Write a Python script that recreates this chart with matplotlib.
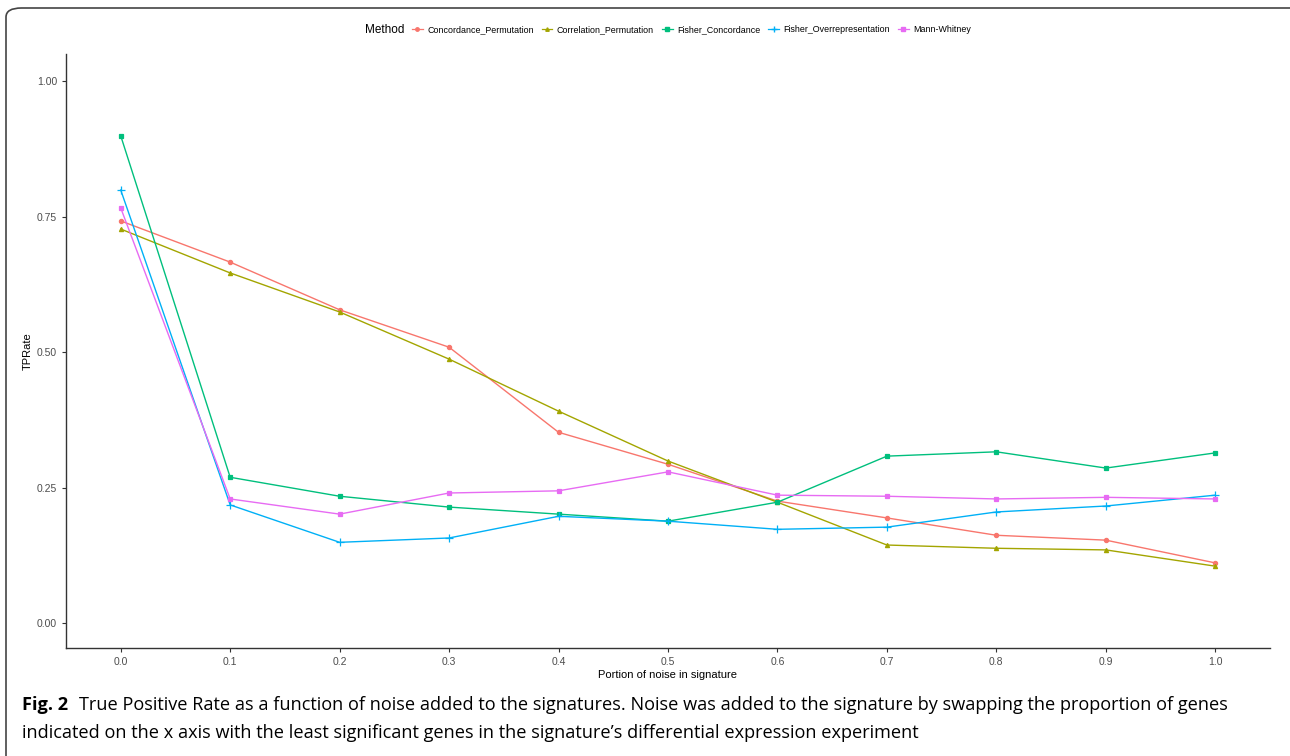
import matplotlib.pyplot as plt
from matplotlib.patches import FancyBboxPatch
from matplotlib.lines import Line2D

noise = [0.0, 0.1, 0.2, 0.3, 0.4, 0.5, 0.6, 0.7, 0.8, 0.9, 1.0]

concordance_perm = [0.742, 0.666, 0.578, 0.509, 0.352, 0.293, 0.225, 0.194, 0.162, 0.153, 0.111]
correlation_perm = [0.727, 0.646, 0.574, 0.487, 0.391, 0.299, 0.223, 0.144, 0.138, 0.135, 0.105]
fisher_concordance = [0.899, 0.269, 0.234, 0.214, 0.201, 0.188, 0.223, 0.308, 0.316, 0.286, 0.314]
fisher_overrep = [0.799, 0.218, 0.149, 0.157, 0.197, 0.188, 0.173, 0.177, 0.205, 0.216, 0.236]
mann_whitney = [0.766, 0.229, 0.201, 0.240, 0.244, 0.279, 0.236, 0.234, 0.229, 0.232, 0.229]

methods = ["Concordance_Permutation", "Correlation_Permutation", "Fisher_Concordance",
           "Fisher_Overrepresentation", "Mann-Whitney"]
series = [concordance_perm, correlation_perm, fisher_concordance, fisher_overrep, mann_whitney]
colors = ["#F8766D", "#A3A500", "#00BF7D", "#00B0F6", "#E76BF3"]
markers = ["o", "^", "s", "+", "s"]

plt.rcParams['font.family'] = ['Liberation Sans', 'DejaVu Sans']

fig = plt.figure(figsize=(12.9, 7.56), dpi=100)

# rounded journal frame
frame = FancyBboxPatch((6 / 1290, -0.05), 1.05, 1 - 8 / 756 + 0.05,
                       boxstyle="round,pad=0,rounding_size=0.012",
                       transform=fig.transFigure, fill=False,
                       edgecolor="#444444", linewidth=1.2, clip_on=False)
fig.patches.append(frame)

ax = fig.add_axes([66 / 1290, 108 / 756, 1204 / 1290, 594 / 756])

for name, y, c, m in zip(methods, series, colors, markers):
    ax.plot(noise, y, color=c, linewidth=1.0, marker=m, markersize=3 if m != "+" else 6,
            markeredgewidth=0.9, label=name)

ax.set_xlim(-0.05, 1.05)
ax.set_ylim(-0.046, 1.05)
ax.set_xticks(noise)
ax.set_xticklabels(["%.1f" % v for v in noise])
ax.set_yticks([0, 0.25, 0.5, 0.75, 1.0])
ax.set_yticklabels(["0.00", "0.25", "0.50", "0.75", "1.00"])
ax.spines['top'].set_visible(False)
ax.spines['right'].set_visible(False)
for s in ['left', 'bottom']:
    ax.spines[s].set_color("#333333")
    ax.spines[s].set_linewidth(1.0)
ax.tick_params(axis='both', labelsize=7.5, colors="#333333", length=3, width=0.8,
               labelcolor="#4D4D4D")
ax.set_xlabel("Portion of noise in signature", fontsize=8, labelpad=2)
ax.set_ylabel("TPRate", fontsize=8)
ax.yaxis.set_label_coords(-33 / 1204, 0.5)

# legend along the top
fig.text(385 / 1290, 1 - 30 / 756, "Method", fontsize=8.5, va="center", ha="center")
handles = [Line2D([0], [0], color=c, marker=m, markersize=2.5 if m != "+" else 5,
                  linewidth=0.9) for c, m in zip(colors, markers)]
fig.legend(handles, methods, loc="center left", bbox_to_anchor=(412 / 1290, 1 - 30 / 756),
           ncol=5, frameon=False, fontsize=6.4, handlelength=1.2, handletextpad=0.5,
           columnspacing=0.9, borderaxespad=0, borderpad=0)

# caption
cap_font = ['Open Sans', 'DejaVu Sans']
fig.text(22 / 1290, 1 - 705 / 756, "Fig. 2", fontsize=13.1, fontweight="bold",
         family=cap_font, va="center")
fig.text(79 / 1290, 1 - 705 / 756,
         "True Positive Rate as a function of noise added to the signatures. Noise was added "
         "to the signature by swapping the proportion of genes",
         fontsize=13.1, family=cap_font, va="center")
fig.text(22 / 1290, 1 - 733 / 756,
         "indicated on the x axis with the least significant genes in the signature\u2019s "
         "differential expression experiment",
         fontsize=13.1, family=cap_font, va="center")

fig.savefig("out.png", dpi=100)
